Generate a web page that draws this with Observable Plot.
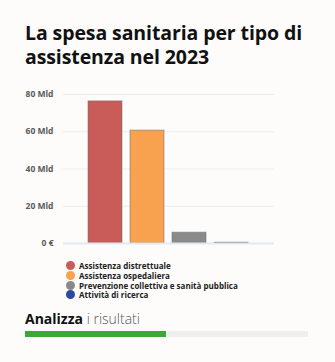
<!DOCTYPE html>
<html>
<head>
<meta charset="utf-8">
<script src="https://cdn.jsdelivr.net/npm/d3@7"></script>
<script src="https://cdn.jsdelivr.net/npm/@observablehq/plot@0.6"></script>
<style>
  html, body { margin: 0; padding: 0; background: #fdfcfb; width: 335px; height: 362px; overflow: hidden; font-family: "Open Sans", "Noto Sans", sans-serif; }
  #title { position: absolute; left: 25px; top: 21px; width: 300px; font-family: "Open Sans", sans-serif; font-weight: 700; font-size: 19.5px; line-height: 24px; color: #111; letter-spacing: -0.1px; }
  #chart { position: absolute; left: 0; top: 80px; }
  #legend { position: absolute; left: 66px; top: 261px; font-family: "Open Sans", sans-serif; font-weight: 700; font-size: 8px; color: #222; }
  #legend .row { display: flex; align-items: center; height: 9.7px; }
  #legend .dot { width: 9px; height: 9px; border-radius: 50%; margin-right: 4px; }
  #analizza { position: absolute; left: 25px; top: 310px; font-family: "Open Sans", sans-serif; font-size: 14px; line-height: 18px; color: #111; }
  #analizza b { font-weight: 700; }
  #analizza span { font-weight: 300; color: #555; }
  #track { position: absolute; left: 25px; top: 331px; width: 283px; height: 6px; background: #eeeeee; }
  #fill { position: absolute; left: 25px; top: 331px; width: 141px; height: 6px; background: #3aa935; }
</style>
</head>
<body>
<div id="title">La spesa sanitaria per tipo di assistenza nel 2023</div>
<div id="chart"></div>
<div id="legend"></div>
<div id="analizza"><b>Analizza</b> <span>i risultati</span></div>
<div id="track"></div>
<div id="fill"></div>
<script>
const categories = ["Assistenza distrettuale", "Assistenza ospedaliera", "Prevenzione collettiva e sanità pubblica", "Attività di ricerca"];
const values = [76.3, 60.6, 5.8, 0.4];
const colors = ["#c95b58", "#f8a14e", "#8a8a8a", "#2e4a9e"];
const yTicks = [0, 20, 40, 60, 80];

const data = categories.map((c, i) => ({ category: c, value: values[i] }));
const fmt = d => d === 0 ? "0 €" : `${d} Mld`;

const chart = Plot.plot({
  width: 335,
  height: 173,
  marginLeft: 63,
  marginRight: 61,
  marginTop: 14,
  marginBottom: 10,
  style: { background: "transparent", fontFamily: "Open Sans, sans-serif" },
  x: { domain: categories, paddingInner: 0.186, paddingOuter: 0.547, axis: null },
  y: { domain: [0, 80], ticks: yTicks, tickFormat: fmt, label: null },
  color: { domain: categories, range: colors },
  marks: [
    Plot.gridY(yTicks.filter(d => d !== 0), { stroke: "#e9edf2", strokeOpacity: 1, strokeWidth: 1 }),
    Plot.axisY({ ticks: yTicks, tickSize: 0, tickPadding: 10, fontSize: 8.5, fontWeight: 700, fill: "#5a5a5a", label: null, tickFormat: fmt }),
    Plot.barY(data, { x: "category", y: "value", fill: "category", stroke: "#6f6f6f", strokeOpacity: 0.55, strokeWidth: 1 }),
    Plot.ruleY([0], { stroke: "#e3e9f2", strokeWidth: 2 })
  ]
});
document.getElementById("chart").appendChild(chart);

const legend = document.getElementById("legend");
categories.forEach((c, i) => {
  const row = document.createElement("div");
  row.className = "row";
  const dot = document.createElement("div");
  dot.className = "dot";
  dot.style.background = colors[i];
  const label = document.createElement("div");
  label.textContent = c;
  row.appendChild(dot);
  row.appendChild(label);
  legend.appendChild(row);
});
</script>
</body>
</html>
